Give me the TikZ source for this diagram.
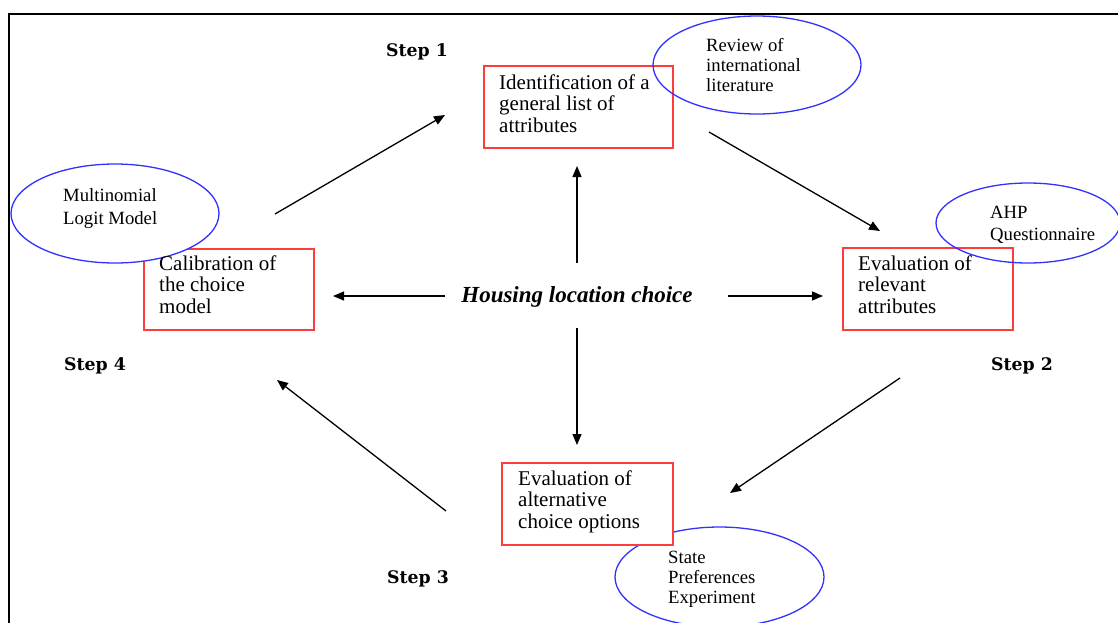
\documentclass[tikz,border=0pt]{standalone}
\usepackage{fontspec}
\setmainfont{Liberation Serif}
\newfontfamily\stepfont{DejaVu Serif}
\usetikzlibrary{arrows.meta,shapes.geometric}
\definecolor{boxred}{RGB}{255,60,60}
\definecolor{ovalblue}{RGB}{50,50,255}
\begin{document}
\begin{tikzpicture}[x=1pt,y=-1pt,
  stepbox/.style={draw=boxred, line width=1.5pt, anchor=north west, inner sep=0pt},
  oval/.style={ellipse, draw=ovalblue, line width=1.3pt, inner sep=0pt},
  boxtext/.style={anchor=base west, align=left, inner sep=0pt, font=\fontsize{21}{21.3}\selectfont},
  ovaltext/.style={anchor=base west, align=left, inner sep=0pt, font=\fontsize{18.7}{#1}\selectfont},
  ovaltext/.default={19.6},
  steplabel/.style={anchor=base west, inner sep=0pt, font=\stepfont\bfseries\fontsize{17.3}{18}\selectfont},
  conn/.style={-{Triangle[length=11pt,width=9pt]}, line width=1.3pt}]
\useasboundingbox (0,0) rectangle (1118,622);
% frame
\draw[line width=2pt] (9,623) -- (9,14) -- (1119,14);

% ovals drawn below boxes
\node[oval, fill=white, minimum width=209pt, minimum height=100pt] (oState) at (719.5,577) {};

% boxes
\node[stepbox, minimum width=189pt, minimum height=82pt] (b1) at (483,65) {};
\node[stepbox, minimum width=170pt, minimum height=82pt] (b2) at (842,247) {};
\node[stepbox, fill=white, minimum width=171pt, minimum height=82pt] (b3) at (501,462) {};
\node[stepbox, minimum width=170pt, minimum height=81pt] (b4) at (143,248) {};

% ovals drawn above boxes
\node[oval, minimum width=208pt, minimum height=98pt] (oReview) at (757,65) {};
\node[oval, minimum width=184pt, minimum height=80pt] (oAHP) at (1028,223) {};
\node[oval, fill=white, minimum width=208pt, minimum height=99pt] (oMNL) at (115,213.5) {};

% box texts (anchored at the baseline of the last line)
\node[boxtext] (t1) at (499,132) {Identification of a\\general list of\\attributes};
\node[boxtext] (t2) at (858,313) {Evaluation of\\relevant\\attributes};
\node[boxtext] (t3) at (518,528) {Evaluation of\\alternative\\choice options};
\node[boxtext] (t4) at (159,313) {Calibration of\\the choice\\model};

% oval texts
\node[ovaltext] (tReview) at (706,91) {Review of\\international\\literature};
\node[ovaltext=22] (tAHP) at (990,240) {AHP\\Questionnaire};
\node[ovaltext=23] (tMNL) at (63,224) {Multinomial\\Logit Model};
\node[ovaltext] (tState) at (668,603) {State\\Preferences\\Experiment};

% step labels
\node[steplabel] (s1) at (386,56) {Step 1};
\node[steplabel] (s2) at (991,370) {Step 2};
\node[steplabel] (s3) at (387,583) {Step 3};
\node[steplabel] (s4) at (64,370) {Step 4};

% centre
\node[anchor=base, inner sep=0pt, font=\bfseries\itshape\fontsize{23}{25}\selectfont] (hc) at (577,302) {Housing location choice};

% arrow end points
\coordinate (cU0) at (577,263);  \coordinate (cU1) at (577,166);
\coordinate (cD0) at (577,328);  \coordinate (cD1) at (577,445);
\coordinate (cL0) at (445,296);  \coordinate (cL1) at (333,296);
\coordinate (cR0) at (728,296);  \coordinate (cR1) at (823,296);
\coordinate (c41) at (275,214);  \coordinate (c42) at (445,115);
\coordinate (c12) at (709,132);  \coordinate (c13) at (880,231);
\coordinate (c22) at (900,378);  \coordinate (c23) at (730,493);
\coordinate (c32) at (446,511);  \coordinate (c33) at (277,380);

\draw[conn] (cU0) -- (cU1);
\draw[conn] (cD0) -- (cD1);
\draw[conn] (cL0) -- (cL1);
\draw[conn] (cR0) -- (cR1);
\draw[conn] (c41) -- (c42);
\draw[conn] (c12) -- (c13);
\draw[conn] (c22) -- (c23);
\draw[conn] (c32) -- (c33);
\end{tikzpicture}
\end{document}
